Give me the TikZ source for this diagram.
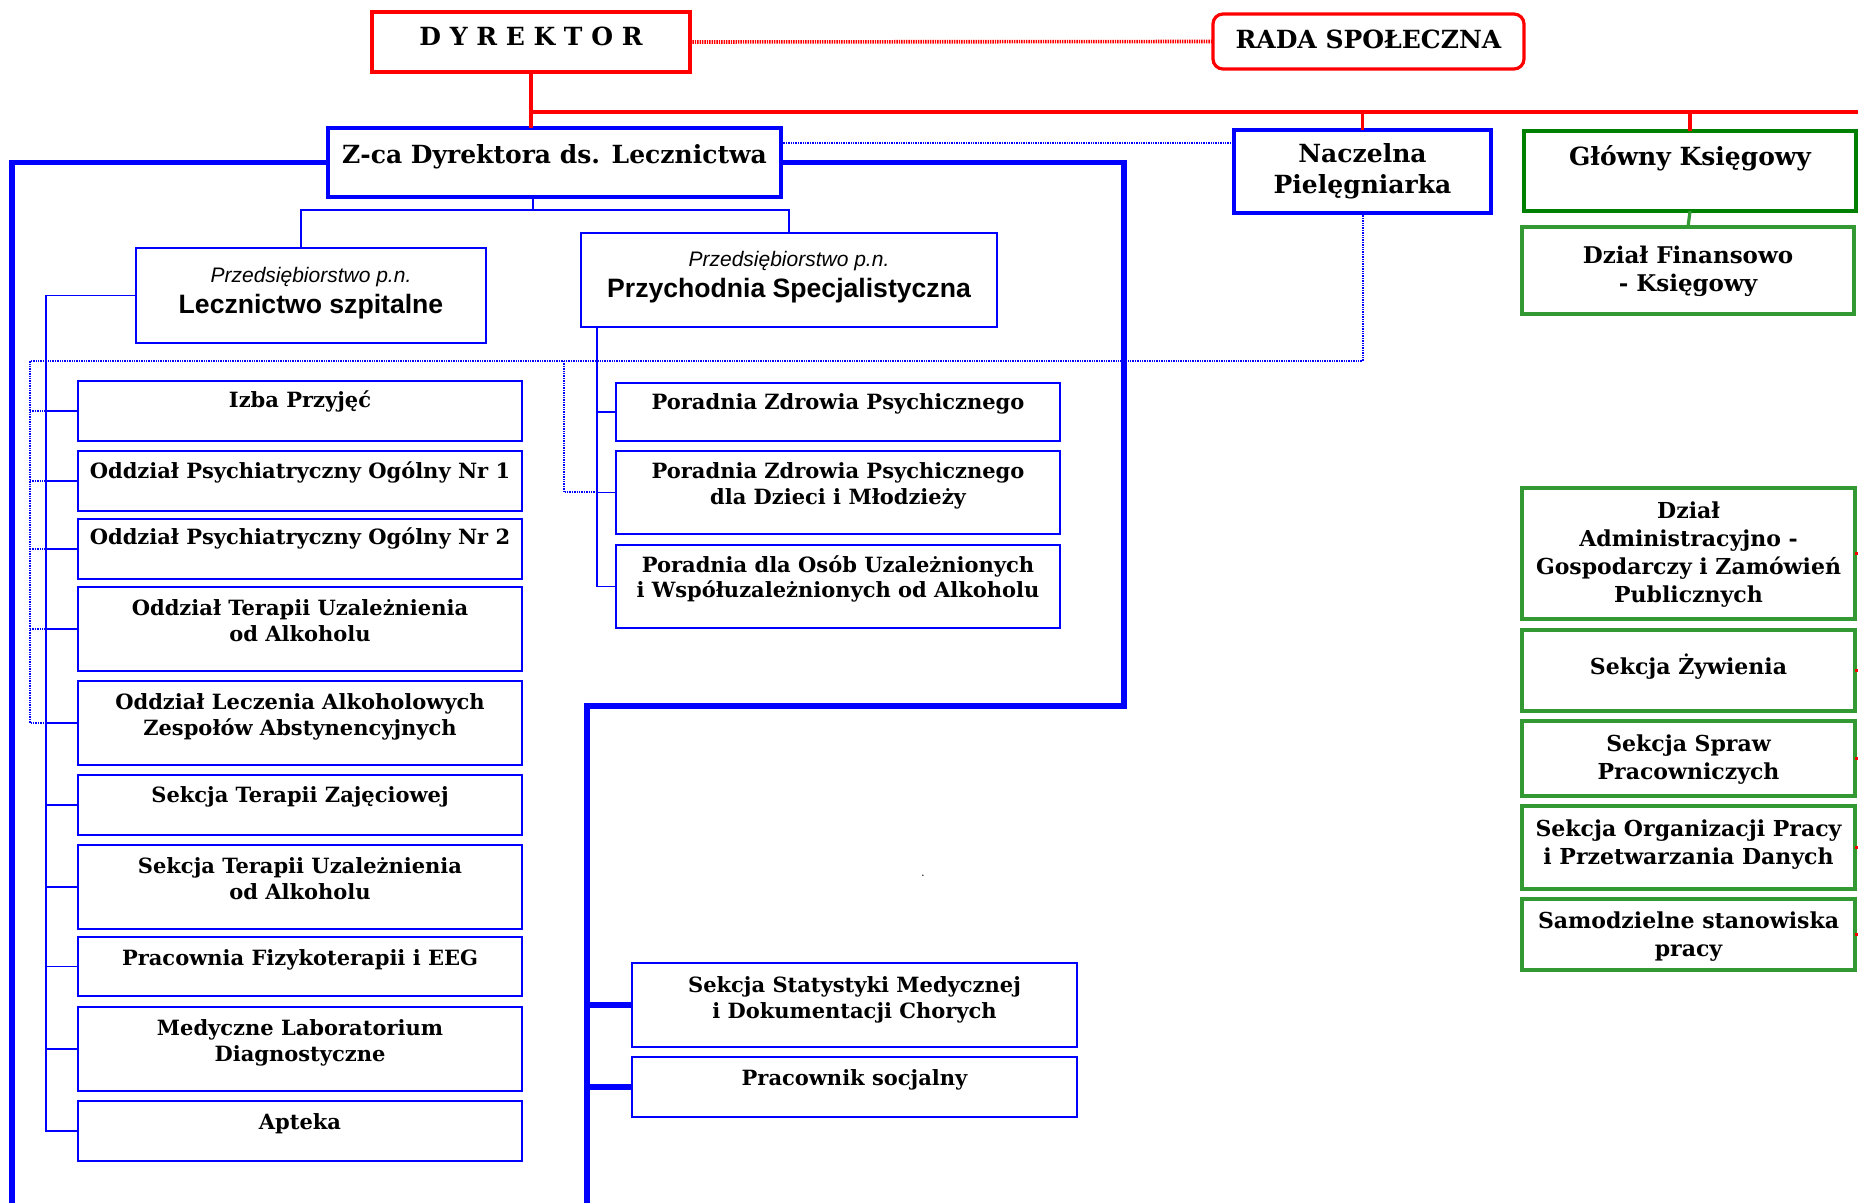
\documentclass[tikz,border=0pt]{standalone}
\usepackage{fontspec}
\usetikzlibrary{calc}
\newfontfamily\dvs{DejaVu Serif}
\newfontfamily\lib{Liberation Sans}
\newlength\pxu \setlength\pxu{0.5pt}
\newcommand\boxfont{\dvs\bfseries\fontsize{10.5}{13}\selectfont}
\newcommand\grfont{\dvs\bfseries\fontsize{11}{14}\selectfont}
\newcommand\finfont{\dvs\bfseries\fontsize{11.5}{14}\selectfont}
\newcommand\hdrfont{\dvs\bfseries\fontsize{12.5}{15.5}\selectfont}
\newcommand\arfont{\lib\fontsize{10.5}{15.3}\selectfont}
\definecolor{bblue}{RGB}{0,0,255}
\definecolor{rred}{RGB}{255,0,0}
\definecolor{dgreen}{RGB}{0,128,0}
\definecolor{lgreen}{RGB}{51,153,51}
% #1 style, #2 name, #3 x1, #4 y1, #5 x2, #6 y2, #7 baseline offset (px), #8 text
\newcommand\obox[8]{%
  \node[#1, anchor=north west, inner sep=0pt, outer sep=0pt] (#2) at (#3,#4)
   {\parbox[c][\dimexpr#6\pxu-#4\pxu\relax][t]{\dimexpr#5\pxu-#3\pxu\relax}{%
     \centering\vspace*{\dimexpr#7\pxu-\baselineskip\relax}\hbox{}#8\par}};}
\tikzset{
  lbox/.style={draw=bblue, line width=1pt, fill=white, font=\boxfont},
  abox/.style={draw=bblue, line width=1pt, fill=white, font=\arfont},
  zbox/.style={draw=bblue, line width=1.6pt, fill=white, font=\hdrfont},
  nbox/.style={draw=bblue, line width=1.8pt, fill=white, font=\hdrfont},
  dbox/.style={draw=rred, line width=2.2pt, fill=white, font=\hdrfont},
  rbox/.style={draw=rred, line width=1.6pt, rounded corners=5pt, fill=white, font=\hdrfont},
  gbox/.style={draw=dgreen, line width=2pt, fill=white, font=\hdrfont},
  fbox/.style={draw=lgreen, line width=1.6pt, fill=white, font=\finfont},
  gsbox/.style={draw=lgreen, line width=1.6pt, fill=white, font=\grfont},
  redline/.style={draw=rred, line width=1.6pt},
  reddot/.style={draw=rred, line width=1.8pt, dash pattern=on 0.7pt off 0.5pt},
  bdot/.style={draw=bblue, line width=1pt, dash pattern=on 0.7pt off 0.5pt},
  thinb/.style={draw=bblue, line width=0.9pt},
  thickb/.style={draw=bblue, line width=2.6pt},
  gline/.style={draw=lgreen, line width=1.6pt},
}
\begin{document}
\begin{tikzpicture}[x=0.5pt, y=-0.5pt]
\clip (0,0) rectangle (1858,1203);
\fill[white] (0,0) rectangle (1858,1203);

% ---- coordinates ----
\coordinate (rh) at (0,112);
\coordinate (rhend) at (1875,112);
\coordinate (lbot) at (12,1215);
\coordinate (rturn) at (1124,706);
\coordinate (rbot) at (587,1215);
\coordinate (zj) at (533,210);
\coordinate (lx) at (46,0);
\coordinate (px) at (597,0);
\coordinate (dx) at (30,361);
\coordinate (dx2) at (564,361);

% ---- boxes ----
\obox{dbox}{dyr}{372}{12}{690}{72}{34}{D Y R E K T O R}
\obox{rbox}{rada}{1213}{14}{1524}{69}{35}{RADA SPOŁECZNA}
\obox{zbox}{zca}{328}{128}{781}{197}{36}{Z-ca Dyrektora ds. Lecznictwa}
\obox{nbox}{nacz}{1234}{130}{1491}{213}{33}{Naczelna\\Pielęgniarka}
\obox{gbox}{glow}{1524}{131}{1856}{211}{35}{Główny Księgowy}
\obox{fbox}{dzfin}{1522}{227}{1854}{314}{37}{Dział Finansowo\\- Księgowy}

\obox{abox}{lecz}{136}{248}{486}{343}{35}{{\itshape Przedsiębiorstwo p.n.}\\{\bfseries\fontsize{13.3}{15.3}\selectfont Lecznictwo szpitalne}}
\obox{abox}{prz}{581}{233}{997}{327}{34}{{\itshape Przedsiębiorstwo p.n.}\\{\bfseries\fontsize{13.3}{15.3}\selectfont Przychodnia Specjalistyczna}}

\obox{lbox}{izba}{78}{381}{522}{441}{27}{Izba Przyjęć}
\obox{lbox}{psy1}{78}{451}{522}{511}{28}{Oddział Psychiatryczny Ogólny Nr 1}
\obox{lbox}{psy2}{78}{519}{522}{579}{26}{Oddział Psychiatryczny Ogólny Nr 2}
\obox{lbox}{otu}{78}{587}{522}{671}{28}{Oddział Terapii Uzależnienia\\od Alkoholu}
\obox{lbox}{olaz}{78}{681}{522}{765}{28}{Oddział Leczenia Alkoholowych\\Zespołów Abstynencyjnych}
\obox{lbox}{stz}{78}{775}{522}{835}{27}{Sekcja Terapii Zajęciowej}
\obox{lbox}{stu}{78}{845}{522}{929}{28}{Sekcja Terapii Uzależnienia\\od Alkoholu}
\obox{lbox}{pf}{78}{937}{522}{996}{28}{Pracownia Fizykoterapii i EEG}
\obox{lbox}{mld}{78}{1007}{522}{1091}{28}{Medyczne Laboratorium\\Diagnostyczne}
\obox{lbox}{apt}{78}{1101}{522}{1161}{28}{Apteka}

\obox{lbox}{p1}{616}{383}{1060}{441}{27}{Poradnia Zdrowia Psychicznego}
\obox{lbox}{p2}{616}{451}{1060}{534}{28}{Poradnia Zdrowia Psychicznego\\dla Dzieci i Młodzieży}
\obox{lbox}{p3}{616}{545}{1060}{628}{27}{Poradnia dla Osób Uzależnionych\\i Współuzależnionych od Alkoholu}

\obox{lbox}{stat}{632}{963}{1077}{1047}{29}{Sekcja Statystyki Medycznej\\i Dokumentacji Chorych}
\obox{lbox}{prac}{632}{1057}{1077}{1117}{28}{Pracownik socjalny}

\obox{gsbox}{adm}{1522}{488}{1855}{619}{30}{Dział\\Administracyjno -\\Gospodarczy i Zamówień\\Publicznych}
\obox{gsbox}{zyw}{1522}{630}{1855}{711}{44}{Sekcja Żywienia}
\obox{gsbox}{spr}{1522}{721}{1855}{796}{30}{Sekcja Spraw\\Pracowniczych}
\obox{gsbox}{org}{1522}{806}{1855}{889}{30}{Sekcja Organizacji Pracy\\i Przetwarzania Danych}
\obox{gsbox}{sam}{1522}{899}{1855}{970}{29}{Samodzielne stanowiska\\pracy}

\node[font=\fontsize{6}{6}\selectfont, inner sep=0pt] (dot) at (923,876) {.};

\coordinate (zd) at ($(zca.north east)+(0,15)$);
\coordinate (lt) at ($(lecz.north west)+(165,0)$);

% ---- red ----
\draw[redline] (dyr.south) -- (dyr.south |- zca.north);
\draw[redline] (dyr.south |- rh) -- (rhend);
\draw[redline] (nacz.north |- rh) -- (nacz.north);
\draw[redline] (glow.north |- rh) -- (glow.north);
\draw[reddot] (dyr.east) -- (rada.west);
\foreach \b in {adm,zyw,spr,org,sam} \draw[redline] (\b.east) -- ++(14,0);

% ---- green ----
\draw[gline] (glow.south) -- (dzfin.north);

% ---- blue thick ----
\draw[thickb] (zca.west) -| (lbot);
\draw[thickb] (zca.east) -| (rturn) -| (rbot);
\draw[thickb] (stat.west -| rbot) -- (stat.west);
\draw[thickb] (prac.west -| rbot) -- (prac.west);

% ---- blue dotted ----
\draw[bdot] (zd) -- (zd -| nacz.west);
\draw[bdot] (nacz.south) |- (dx) |- (olaz.west -| lx);
\foreach \b in {izba,psy1,psy2,otu} \draw[bdot] (\b.west -| dx) -- (\b.west -| lx);
\draw[bdot] (dx2) |- (p2.west -| px);

% ---- blue thin ----
\draw[thinb] (zca.south -| zj) -- (zj);
\draw[thinb] (lt) |- (prz.north |- zj) -- (prz.north);
\draw[thinb] (lecz.west) -| (apt.west -| lx) -- (apt.west);
\foreach \b in {izba,psy1,psy2,otu,olaz,stz,stu,pf,mld} \draw[thinb] (\b.west -| lx) -- (\b.west);
\draw[thinb] (prz.south -| px) |- (p3.west);
\draw[thinb] (p1.west -| px) -- (p1.west);
\draw[thinb] (p2.west -| px) -- (p2.west);
\end{tikzpicture}
\end{document}
